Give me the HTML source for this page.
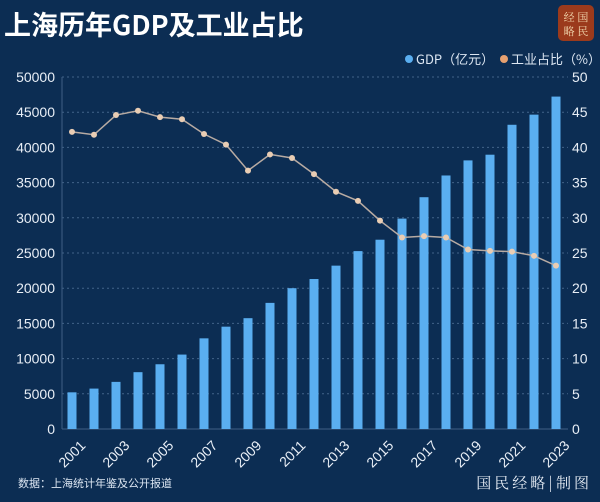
<!DOCTYPE html>
<html><head><meta charset="utf-8"><style>
body{margin:0;background:#0b2c52;}
svg{display:block}
</style></head><body>
<svg width="600" height="502" viewBox="0 0 600 502" xmlns="http://www.w3.org/2000/svg" font-family="Liberation Sans, Noto Sans CJK SC, sans-serif">
<rect width="600" height="502" fill="#0c2d53"/>
<text x="4" y="35" font-size="27" font-weight="bold" fill="#fff" font-family="Noto Sans CJK SC, sans-serif">上海历年GDP及工业占比</text>
<rect x="558" y="5" width="36" height="36" rx="5" fill="#9b3a1c"/>
<text x="576" y="21" font-size="11" fill="#f3d9b0" text-anchor="middle" font-family="Noto Serif CJK SC, serif">经 国</text>
<text x="576" y="35" font-size="11" fill="#f3d9b0" text-anchor="middle" font-family="Noto Serif CJK SC, serif">略 民</text>
<circle cx="409" cy="59" r="4" fill="#5aaef0"/>
<text x="416" y="64" font-size="13" fill="#dce6f2" font-family="Noto Sans CJK SC, sans-serif">GDP（亿元）</text>
<circle cx="504" cy="59" r="4" fill="#e6a070"/>
<text x="511" y="64" font-size="13" fill="#dce6f2" font-family="Noto Sans CJK SC, sans-serif">工业占比（%）</text>
<g id="grid" stroke="#5a7aa0" stroke-width="1" stroke-dasharray="2,3" opacity="0.7"></g>
<line x1="62" y1="77" x2="62" y2="429" stroke="#3f5f85"/>
<line x1="62" y1="429" x2="568" y2="429" stroke="#3f5f85"/>
<g id="ylab" font-size="14" fill="#e8eef6"></g>
<g id="bars" fill="#5aaef0"></g>
<polyline id="line" fill="none" stroke="#b8aba3" stroke-width="1.5"/>
<g id="dots" fill="#e9cdb4"></g>
<g id="xlab" font-size="14" fill="#e8eef6"></g>
<text x="18" y="487" font-size="11" fill="#dce6f2" font-family="Noto Sans CJK SC, sans-serif">数据：上海统计年鉴及公开报道</text>
<text x="592" y="488" font-size="15" fill="#e8eef6" text-anchor="end" letter-spacing="3" font-family="Noto Serif CJK SC, serif">国民经略|制图</text>
</svg>
<script>
var ns="http://www.w3.org/2000/svg";
function el(t,a,p,txt){var e=document.createElementNS(ns,t);for(var k in a)e.setAttribute(k,a[k]);if(txt!==undefined)e.textContent=txt;document.getElementById(p).appendChild(e);}
var y0=429,s=352/50000;
for(var i=0;i<=10;i++){var v=i*5000,y=y0-v*s;
 if(i>0)el("line",{x1:62,x2:568,y1:y,y2:y},"grid");
 el("text",{x:55,y:y+5,"text-anchor":"end"},"ylab",v);
 el("text",{x:572,y:y+5},"ylab",i*5);}
var g=[5210,5741,6694,8072,9197,10572,12878,14536,15742,17915,20000,21305,23204,25269,26887,29887,32925,36011,38155,38963,43214,44653,47218];
var p=[42.2,41.8,44.6,45.2,44.3,44.0,41.9,40.4,36.7,39.0,38.5,36.2,33.7,32.4,29.6,27.2,27.4,27.2,25.5,25.3,25.2,24.6,23.2];
var pts=[];
for(var i=0;i<23;i++){var x=72+i*22;
 var h=g[i]*s;el("rect",{x:x-4.5,y:y0-h,width:9,height:h},"bars");
 var yy=y0-p[i]*s*1000;pts.push(x+","+yy);el("circle",{cx:x,cy:yy,r:3},"dots");
 if(i%2==0)el("text",{x:x+7,y:y0+10,transform:"rotate(-45 "+(x+7)+" "+(y0+10)+")","text-anchor":"end","dominant-baseline":"hanging"},"xlab",2001+i);}
document.getElementById("line").setAttribute("points",pts.join(" "));
</script>
</body></html>
